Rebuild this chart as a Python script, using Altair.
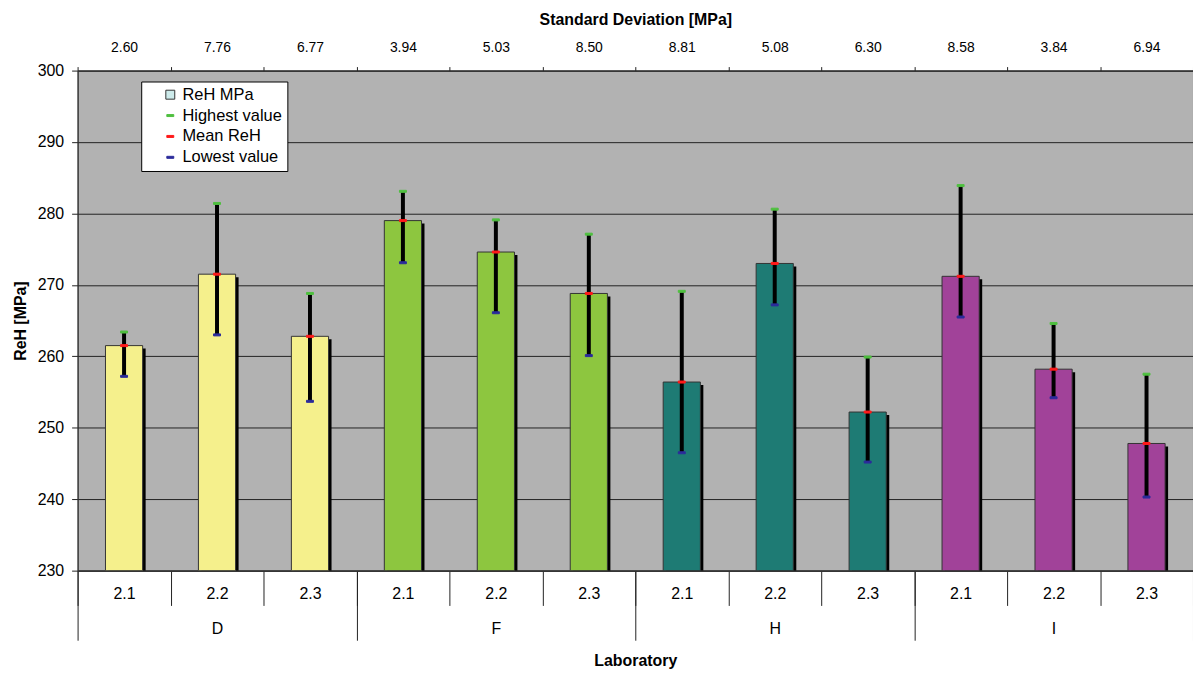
import altair as alt
import pandas as pd

labs = ["D", "F", "H", "I"]
subs = ["2.1", "2.2", "2.3"]
mean_reh = [261.5, 271.5, 262.8, 279.0, 274.6, 268.8, 256.4, 273.0, 252.2, 271.2, 258.2, 247.8]
high_val = [263.4, 281.4, 268.8, 283.1, 279.1, 277.1, 269.1, 280.6, 259.9, 283.9, 264.6, 257.5]
low_val = [257.2, 263.0, 253.7, 273.1, 266.1, 260.1, 246.5, 267.2, 245.2, 265.5, 254.2, 240.3]
std_dev = ["2.60", "7.76", "6.77", "3.94", "5.03", "8.50", "8.81", "5.08", "6.30", "8.58", "3.84", "6.94"]
y_ticks = [230, 240, 250, 260, 270, 280, 290, 300]

bar_colors = ["#F5F08C", "#8DC63F", "#1E7B74", "#A14299"]
legend_items = ["ReH MPa", "Highest value", "Mean ReH", "Lowest value"]
legend_fill = ["#CDEBEB", "#4FBF3F", "#FF1A1A", "#2B2B9B"]
legend_stroke = ["#333333", "#4FBF3F", "#FF1A1A", "#2B2B9B"]
legend_shapes = ["M-0.9,-0.9H0.9V0.9H-0.9Z",
                 "M-0.7,-0.2H0.7V0.2H-0.7Z",
                 "M-0.7,-0.2H0.7V0.2H-0.7Z",
                 "M-0.7,-0.2H0.7V0.2H-0.7Z"]

FONT = "Liberation Sans"

lab_col = [l for l in labs for _ in subs]
sub_col = subs * len(labs)
keys = [f"{l}|{s}" for l, s in zip(lab_col, sub_col)]

df = pd.DataFrame({
    "key": keys, "lab": lab_col, "sub": sub_col,
    "mean": mean_reh, "high": high_val, "low": low_val, "sd": std_dev,
})

ticks_df = pd.concat([
    pd.DataFrame({"key": keys, "value": high_val, "series": "Highest value"}),
    pd.DataFrame({"key": keys, "value": mean_reh, "series": "Mean ReH"}),
    pd.DataFrame({"key": keys, "value": low_val, "series": "Lowest value"}),
])

band = alt.Scale(paddingInner=0, paddingOuter=0)
yscale = alt.Scale(domain=[230, 300], zero=False, nice=False)

inner_axis = alt.Axis(
    title=None, orient="bottom", labelExpr="split(datum.value,'|')[1]",
    tickBand="extent", tickSize=35, labelPadding=-20, labelAngle=0,
    labelFont=FONT, labelFontSize=16, labelColor="black",
    tickColor="#222", domainColor="#333", grid=False,
)
outer_axis = alt.Axis(
    title="Laboratory", orient="bottom", tickBand="extent", tickSize=70,
    labelPadding=-20, labelAngle=0, labelFont=FONT, labelFontSize=16,
    labelColor="black", tickColor="#222", domainColor="#333", grid=False,
    titleFont=FONT, titleFontSize=16, titleFontWeight="bold", titlePadding=12,
    titleColor="black",
)
top_axis = alt.Axis(
    title="Standard Deviation [MPa]", orient="top", tickBand="extent", tickSize=4,
    labelPadding=12, labelAngle=0, labelFont=FONT, labelFontSize=14,
    labelColor="black", tickColor="#222", domainColor="#333", grid=False,
    titleFont=FONT, titleFontSize=16, titleFontWeight="bold", titlePadding=13,
    titleColor="black",
)
yaxis = alt.Axis(
    title="ReH [MPa]", values=y_ticks, tickSize=6, labelPadding=8,
    labelFont=FONT, labelFontSize=16, labelColor="black",
    titleFont=FONT, titleFontSize=16, titleFontWeight="bold", titlePadding=9,
    titleColor="black", grid=True, gridColor="#222", gridOpacity=1,
    tickColor="#222", domainColor="#333",
)

x_inner = alt.X("key:N", sort=keys, scale=band, axis=inner_axis)

shadow = alt.Chart(df).mark_bar(
    color="black", xOffset=3, yOffset=3, clip=True, width=alt.RelativeBandSize(0.4)
).encode(
    x=x_inner,
    y=alt.Y("mean:Q", scale=yscale, axis=yaxis),
    y2=alt.datum(230),
)

bars = alt.Chart(df).mark_bar(
    stroke="#333", strokeWidth=1, clip=True, width=alt.RelativeBandSize(0.4)
).encode(
    x=x_inner,
    y=alt.Y("mean:Q", scale=yscale, axis=yaxis),
    y2=alt.datum(230),
    color=alt.Color("lab:N", scale=alt.Scale(domain=labs, range=bar_colors), legend=None),
)

rules = alt.Chart(df).mark_rule(color="black", strokeWidth=4).encode(
    x=x_inner,
    y=alt.Y("low:Q", scale=yscale, axis=yaxis),
    y2="high:Q",
)

leg = alt.Legend(
    title=None, orient="none", legendX=64, legendY=11, fillColor="white",
    strokeColor="black", padding=5, symbolOffset=16, labelOffset=4,
    labelFont=FONT, labelFontSize=16.5, labelColor="black", rowPadding=4,
    symbolSize=100, symbolStrokeWidth=1,
)

marks = alt.Chart(ticks_df).mark_point(filled=True, size=100, strokeWidth=1, opacity=1).encode(
    x=x_inner,
    y=alt.Y("value:Q", scale=yscale, axis=yaxis),
    fill=alt.Fill("series:N", scale=alt.Scale(domain=legend_items, range=legend_fill), legend=leg),
    stroke=alt.Stroke("series:N", scale=alt.Scale(domain=legend_items, range=legend_stroke), legend=leg),
    shape=alt.Shape("series:N", scale=alt.Scale(domain=legend_items, range=legend_shapes), legend=leg),
)

main = alt.layer(shadow, bars, rules, marks)

outer = alt.Chart(df).mark_point(opacity=0).encode(
    x=alt.X("lab:N", sort=labs, scale=band, axis=outer_axis),
)
top = alt.Chart(df).mark_point(opacity=0).encode(
    x=alt.X("sd:N", sort=std_dev, scale=band, axis=top_axis),
)

chart = alt.layer(main, outer, top).resolve_scale(x="independent").properties(
    width=1122, height=503,
    autosize=alt.AutoSizeParams(type="none"),
    padding={"left": 70, "top": 61, "right": 0, "bottom": 97},
).configure_view(fill="#B2B2B2", stroke="#333", strokeWidth=1)

chart.save("out.html", embed_options={"renderer": "svg", "actions": False})
